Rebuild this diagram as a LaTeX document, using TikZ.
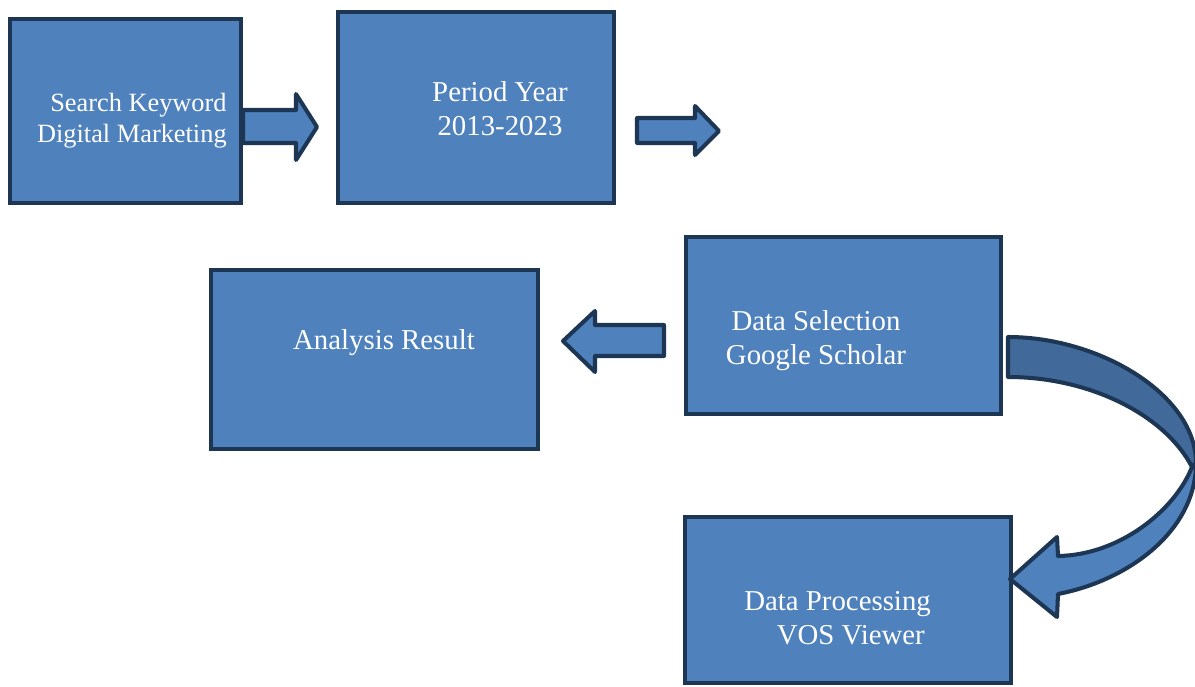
\documentclass[tikz,border=0pt]{standalone}
\usepackage{fontspec}
\setmainfont{Liberation Serif}
\usepackage{tikz}
\usetikzlibrary{positioning, calc}

\definecolor{boxfill}{HTML}{4F81BD}
\definecolor{boxline}{HTML}{1D3654}
\definecolor{bandback}{HTML}{41699A}

\begin{document}
\begin{tikzpicture}[x=0.02cm, y=-0.02cm,
        stepbox/.style={rectangle, draw=boxline, fill=boxfill, line width=2.5pt, inner sep=0pt},
        boxtext/.style={text=white, font=\fontsize{16.4}{19.3}\selectfont, align=center, inner sep=0pt},
        blockarrow/.style={draw=boxline, fill=boxfill, line width=2.3pt, line join=round},
        backband/.style={blockarrow, fill=bandback}
    ]
        \clip (0,0) rectangle (1195,686);

        \node[stepbox, minimum width=4.62cm, minimum height=3.68cm] (keyword) at (125.5,111) {};
        \node[stepbox, minimum width=5.52cm, minimum height=3.82cm] (period) at (476,107.5) {};
        \node[stepbox, minimum width=6.3cm, minimum height=3.54cm] (selection) at (843.5,325.5) {};
        \node[stepbox, minimum width=6.54cm, minimum height=3.58cm] (result) at (374.5,359.5) {};
        \node[stepbox, minimum width=6.52cm, minimum height=3.32cm] (processing) at (848,600) {};

        % Texts
        \node[boxtext, align=right, anchor=east, font=\fontsize{15}{17.6}\selectfont] (keywordtxt) at (227,121) {Search Keyword\\Digital Marketing};
        \node[boxtext] (periodtxt) at (500,109) {Period Year\\2013-2023};
        \node[boxtext] (resulttxt) at (384,343) {Analysis Result};
        \node[boxtext] (selectiontxt) at (816,341) {Data Selection\\Google Scholar};
        \node[boxtext, align=left, anchor=west] (processingtxt) at (744,618) {Data Processing\\\hspace*{18.5pt}VOS Viewer};

        % Block arrows
        \filldraw[blockarrow] (243,110) -- (296,110) -- (296,94) -- (317,127) -- (296,160) -- (296,143) -- (243,143) -- cycle;
        \filldraw[blockarrow] (637,118) -- (695,118) -- (695,106) -- (719,131) -- (695,155) -- (695,143) -- (637,143) -- cycle;
        \filldraw[blockarrow] (664,325) -- (595,325) -- (595,311) -- (563,341) -- (595,372) -- (595,356) -- (664,356) -- cycle;

        % Curved arrow
        \filldraw[backband] (1008,337) .. controls (1100,337) and (1196,395) .. (1196,463)
            -- (1192,467) .. controls (1165,415) and (1090,377) .. (1008,377) -- cycle;
        \filldraw[blockarrow] (1196,463) .. controls (1196,530) and (1130,580) .. (1058,594)
            -- (1057,617) -- (1010,579) -- (1057,537) -- (1058,556)
            .. controls (1120,555) and (1175,510) .. (1192,467) -- cycle;

    \end{tikzpicture}
\end{document}
